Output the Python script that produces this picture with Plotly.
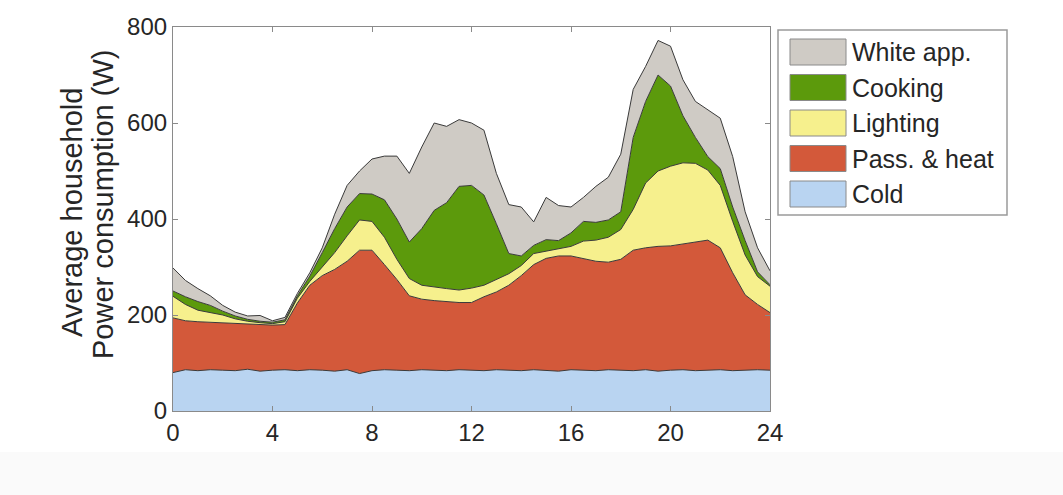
import plotly.graph_objects as go

# Hour of day (half-hour resolution)
hours = [i * 0.5 for i in range(49)]

# Average household power per end use (W), stacked from the bottom
cold = [80, 86, 84, 86, 85, 84, 87, 83, 85, 86, 84, 86, 85, 83, 86, 78, 84, 86, 85, 84,
        86, 85, 84, 86, 85, 84, 86, 85, 84, 86, 85, 83, 86, 85, 84, 86, 85, 84, 86, 83,
        85, 86, 84, 85, 86, 84, 85, 86, 85]
pass_heat = [114, 102, 102, 99, 99, 98, 94, 97, 94, 94, 141, 176, 197, 212, 226, 257, 251, 219, 189, 156,
             147, 145, 144, 140, 141, 154, 162, 177, 198, 219, 233, 240, 237, 233, 228, 224, 231, 251, 254, 260,
             259, 262, 268, 271, 254, 204, 157, 136, 120]
lighting = [45, 34, 24, 20, 16, 10, 6, 4, 3, 6, 10, 8, 18, 35, 53, 63, 60, 57, 42, 36,
            29, 28, 27, 26, 30, 24, 26, 24, 21, 23, 15, 15, 20, 36, 44, 52, 62, 85, 135, 157,
            166, 169, 164, 146, 130, 107, 83, 58, 55]
cooking = [11, 16, 18, 15, 8, 6, 4, 3, 3, 4, 5, 11, 30, 50, 60, 55, 57, 78, 84, 76,
           118, 160, 179, 216, 214, 188, 116, 42, 20, 17, 24, 17, 28, 41, 37, 36, 37, 150, 170, 200,
           167, 98, 54, 28, 35, 30, 30, 10, 3]
white_app = [48, 34, 27, 20, 12, 8, 7, 12, 3, 5, 5, 7, 10, 30, 45, 47, 73, 91, 131, 143,
             170, 182, 159, 139, 130, 135, 105, 102, 102, 49, 88, 73, 54, 50, 75, 89, 120, 100, 73, 72,
             83, 75, 75, 98, 105, 105, 60, 50, 29]

series = [
    ("Cold", cold, "#b9d4f1"),
    ("Pass. & heat", pass_heat, "#d3593a"),
    ("Lighting", lighting, "#f6f08d"),
    ("Cooking", cooking, "#5c9a0c"),
    ("White app.", white_app, "#cfcbc5"),
]

x_ticks = [0, 4, 8, 12, 16, 20, 24]
y_ticks = [0, 200, 400, 600, 800]

W, H = 1063, 495
ML, MR, MT, MB = 173, 293, 27, 84
PW, PH = W - ML - MR, H - MT - MB


def px(xp):
    return (xp - ML) / PW


def py(yp):
    return (H - MB - yp) / PH


fig = go.Figure()
for name, vals, col in series:
    fig.add_trace(go.Scatter(
        x=hours, y=vals, name=name, mode="lines", stackgroup="use",
        line=dict(color="#3a3a3a", width=1), fillcolor=col,
        showlegend=False, hoverinfo="x+y+name",
    ))

font_family = "Liberation Sans, Arial, sans-serif"
axis_common = dict(
    showline=True, linecolor="#8a8a8a", linewidth=1.2, mirror="ticks",
    ticks="inside", ticklen=5, tickcolor="#8a8a8a", showgrid=False, zeroline=False,
    tickfont=dict(family=font_family, size=24, color="#262626"),
)

fig.update_layout(
    width=W, height=H,
    margin=dict(l=ML, r=MR, t=MT, b=MB),
    paper_bgcolor="white", plot_bgcolor="white",
    xaxis=dict(range=[0, 24], tickvals=x_ticks, ticktext=[str(v) for v in x_ticks], **axis_common),
    yaxis=dict(range=[0, 800], tickvals=y_ticks, ticktext=[str(v) for v in y_ticks], **axis_common),
    showlegend=False,
)

# Very faint band along the bottom of the page
fig.add_shape(type="rect", xref="paper", yref="paper", x0=px(0), x1=px(W), y0=py(H), y1=py(452),
              fillcolor="#fafafa", line=dict(width=0), layer="below")

# Y-axis title, two lines
fig.add_annotation(text="Average household", xref="paper", yref="paper", x=px(72), y=py(213),
                   textangle=-90, showarrow=False, xanchor="center", yanchor="middle",
                   font=dict(family=font_family, size=29, color="#262626"))
fig.add_annotation(text="Power consumption (W)", xref="paper", yref="paper", x=px(103), y=py(205),
                   textangle=-90, showarrow=False, xanchor="center", yanchor="middle",
                   font=dict(family=font_family, size=29, color="#262626"))

# Legend box with swatches
fig.add_shape(type="rect", xref="paper", yref="paper", x0=px(778), x1=px(1007), y0=py(215), y1=py(30),
              line=dict(color="#9a9a9a", width=1.5), fillcolor="white")
for i, (name, vals, col) in enumerate(reversed(series)):
    top = 39 + i * 35.5
    fig.add_shape(type="rect", xref="paper", yref="paper", x0=px(790), x1=px(846),
                  y0=py(top + 26), y1=py(top), fillcolor=col, line=dict(color="#8a8a8a", width=1))
    fig.add_annotation(text=name, xref="paper", yref="paper", x=px(850), y=py(top + 13),
                       xanchor="left", yanchor="middle", showarrow=False,
                       font=dict(family=font_family, size=25, color="#262626"))

fig.write_html("out.html")
